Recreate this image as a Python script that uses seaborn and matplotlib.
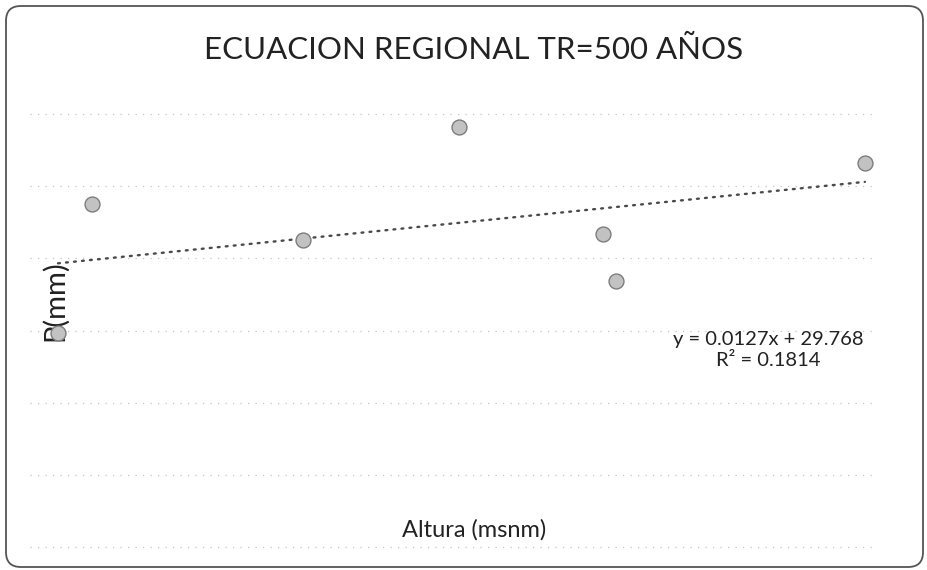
import numpy as np
import pandas as pd
import matplotlib
matplotlib.use("Agg")
import matplotlib.pyplot as plt
import seaborn as sns
from matplotlib.patches import FancyBboxPatch

# ---- data ----
altura = [3897, 3935, 4167, 4339, 4498, 4513, 4787]
precip = [69.7, 87.5, 82.5, 98.2, 83.4, 76.9, 93.2]
y_ticks = [40, 50, 60, 70, 80, 90, 100]
title = "ECUACION REGIONAL TR=500 AÑOS"
x_label = "Altura (msnm)"
y_label = "P(mm)"
eq_text = "y = 0.0127x + 29.768"
r2_text = "R² = 0.1814"

sns.set_theme(style="white")
plt.rcParams['font.family'] = ['Lato', 'DejaVu Sans']

df = pd.DataFrame({x_label: altura, y_label: precip})

W, H = 928, 570
px_per_unit = (547 - 114) / 60.0
pad = 4 / px_per_unit
fig = plt.figure(figsize=(W / 100, H / 100), dpi=100)
ax = fig.add_axes([30 / W, 1 - 551 / H, (874 - 30) / W, (551 - 110) / H])

sns.regplot(data=df, x=x_label, y=y_label, ci=None, scatter=False, ax=ax,
            line_kws=dict(color='#4a4a4a', lw=1.7, ls=(0, (0.8, 2.6)),
                          dash_capstyle='round'))
sns.scatterplot(data=df, x=x_label, y=y_label, ax=ax, s=115,
                color='#c2c2c2', edgecolor='#7d7d7d', linewidth=1.0, zorder=3)

# x mapping: 1.103 m per pixel, 3897 m at pixel 58
ax.set_xlim(3897 - 28 * 1.103, 3897 + (874 - 58) * 1.103)
ax.set_ylim(40 - pad, 100 + pad)
ax.set_yticks(y_ticks)
ax.yaxis.grid(True, color='#c4c4c4', ls=(0, (1, 5)), lw=0.9)
ax.xaxis.grid(False)
ax.tick_params(axis='both', which='both', length=0, labelleft=False, labelbottom=False)
for s in ax.spines.values():
    s.set_visible(False)
ax.set_facecolor('none')

ax.set_xlabel(x_label, fontsize=17, color='#222222')
ax.xaxis.set_label_coords((474 - 30) / 844, (551 - 530) / 441)
ax.xaxis.label.set_va('center')
ax.set_ylabel(y_label, fontsize=21, color='#222222')
ax.yaxis.set_label_coords((55 - 30) / 844, (551 - 301) / 441)
ax.yaxis.label.set_va('center')

fig.text(474 / W, 1 - 50 / H, title, ha='center', va='center',
         fontsize=22.5, color='#222222')
fig.text(768 / W, 1 - 339 / H, eq_text, ha='center', va='center',
         fontsize=14.5, color='#222222')
fig.text(768 / W, 1 - 361 / H, r2_text, ha='center', va='center',
         fontsize=14.5, color='#222222')

frame = FancyBboxPatch((6 / W, 3 / H), 917 / W, 561 / H,
                       boxstyle='round,pad=0,rounding_size=0.016',
                       mutation_aspect=W / H,
                       transform=fig.transFigure, fill=False,
                       ec='#555555', lw=1.3)
fig.patches.append(frame)

fig.savefig('out.png', dpi=100)
